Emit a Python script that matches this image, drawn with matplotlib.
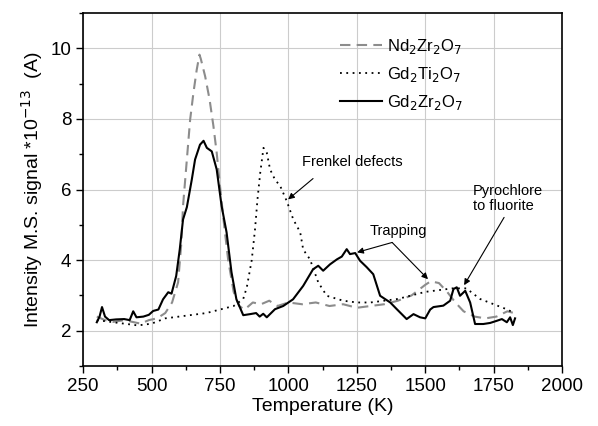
import numpy as np
import matplotlib
matplotlib.use("Agg")
import matplotlib.pyplot as plt

plt.rcParams['font.family'] = ['Liberation Sans', 'DejaVu Sans']

# Gd2Zr2O7 (linea continua)
t_gdzr = [300, 310, 319, 330, 345, 370, 400, 420, 433, 445, 470, 490, 506, 525, 542, 561, 573, 590, 603, 615,
          629, 647, 659, 677, 690, 702, 720, 738, 756, 774, 792, 810, 835, 860, 882, 895, 908, 921, 951, 981,
          1017, 1054, 1090, 1109, 1127, 1152, 1177, 1195, 1213, 1225, 1244, 1262, 1286, 1310, 1335, 1372, 1396, 1432, 1457, 1481,
          1500, 1518, 1530, 1566, 1591, 1603, 1615, 1627, 1646, 1664, 1682, 1712, 1737, 1761, 1780, 1798, 1810, 1820, 1828]
i_gdzr = [2.24, 2.4, 2.67, 2.4, 2.3, 2.32, 2.33, 2.3, 2.55, 2.38, 2.4, 2.45, 2.56, 2.6, 2.89, 3.09, 3.05, 3.55, 4.3, 5.15,
          5.5, 6.28, 6.85, 7.27, 7.38, 7.18, 7.08, 6.57, 5.53, 4.79, 3.66, 2.89, 2.44, 2.47, 2.5, 2.4, 2.48, 2.38, 2.61, 2.7,
          2.89, 3.27, 3.74, 3.84, 3.7, 3.88, 4.02, 4.1, 4.31, 4.17, 4.2, 3.98, 3.8, 3.6, 2.99, 2.8, 2.61, 2.33, 2.47, 2.38,
          2.35, 2.6, 2.67, 2.71, 2.85, 3.18, 3.23, 2.99, 3.13, 2.8, 2.19, 2.19, 2.22, 2.28, 2.33, 2.24, 2.38, 2.16, 2.35]

# Nd2Zr2O7 (discontinua gris)
t_ndzr = [300, 330, 360, 400, 430, 460, 490, 520, 550, 575, 597, 609, 615, 629, 641, 653, 665, 675, 680, 696,
          712, 726, 738, 750, 765, 780, 800, 820, 840, 870, 900, 930, 960, 1000, 1050, 1100, 1150, 1200, 1250, 1300,
          1350, 1400, 1450, 1500, 1520, 1550, 1580, 1610, 1640, 1680, 1720, 1760, 1800, 1825]
i_ndzr = [2.4, 2.3, 2.25, 2.3, 2.25, 2.2, 2.3, 2.35, 2.5, 2.8, 3.37, 4.5, 5.53, 6.85, 7.98, 8.74, 9.39, 9.82, 9.7, 9.2,
          8.55, 7.8, 7.04, 6.1, 5.0, 4.0, 3.1, 2.7, 2.6, 2.8, 2.75, 2.85, 2.7, 2.8, 2.75, 2.8, 2.7, 2.75, 2.65, 2.7,
          2.75, 2.85, 3.0, 3.3, 3.4, 3.35, 3.1, 2.8, 2.55, 2.4, 2.35, 2.4, 2.55, 2.5]

# Gd2Ti2O7 (punteada)
t_gdti = [300, 350, 400, 450, 500, 550, 600, 650, 700, 750, 800, 835, 848, 866, 878, 887, 897, 909, 921, 933,
          951, 970, 994, 1018, 1043, 1054, 1079, 1109, 1140, 1200, 1250, 1300, 1350, 1400, 1450, 1500, 1550, 1600, 1650, 1700,
          1750, 1800, 1825]
i_gdti = [2.3, 2.25, 2.2, 2.15, 2.2, 2.35, 2.4, 2.45, 2.5, 2.6, 2.7, 2.9, 3.23, 4.0, 4.87, 5.72, 6.47, 7.18, 7.04, 6.57,
          6.28, 6.1, 5.67, 5.15, 4.79, 4.3, 4.02, 3.37, 2.99, 2.85, 2.8, 2.8, 2.85, 2.9, 3.0, 3.1, 3.15, 3.2, 3.2, 2.9,
          2.75, 2.6, 2.5]

fig, ax = plt.subplots(figsize=(5.98, 4.26), dpi=100)
fig.subplots_adjust(left=0.139, right=0.94, top=0.9695, bottom=0.1408)

ax.plot(t_ndzr, i_ndzr, color='#8c8c8c', lw=1.5, dashes=(5, 3), label=r'Nd$_2$Zr$_2$O$_7$')
ax.plot(t_gdti, i_gdti, color='black', lw=1.3, dashes=(1, 2.5), label=r'Gd$_2$Ti$_2$O$_7$')
ax.plot(t_gdzr, i_gdzr, color='black', lw=1.5, label=r'Gd$_2$Zr$_2$O$_7$')

ax.set_xlim(250, 2000)
ax.set_ylim(1, 11)
ax.set_xticks(np.arange(250, 2001, 250))
ax.set_xticks(np.arange(375, 2000, 250), minor=True)
ax.set_yticks([2, 4, 6, 8, 10])
ax.set_yticks([1, 3, 5, 7, 9, 11], minor=True)
ax.tick_params(labelsize=13.5, direction='out', length=5, width=1)
ax.tick_params(which='minor', direction='out', length=3, width=1)
ax.grid(True, which='major', color='#cccccc', lw=0.8)
for s in ax.spines.values():
    s.set_linewidth(1.2)

ax.set_xlabel('Temperature (K)', fontsize=14, labelpad=2)
ax.set_ylabel(r'Intensity M.S. signal *10$^{-13}$  (A)', fontsize=14, labelpad=4)

ax.legend(loc='upper left', bbox_to_anchor=(0.505, 0.975), frameon=False, fontsize=12,
          handlelength=2.5, labelspacing=0.55, handletextpad=0.3)

arrow = dict(arrowstyle='-|>', color='black', lw=0.8, mutation_scale=9, shrinkA=0, shrinkB=0)
ax.text(1050, 6.77, 'Frenkel defects', fontsize=10.5, va='center', ha='left')
ax.annotate('', xy=(999, 5.72), xytext=(1090, 6.31), arrowprops=arrow)

ax.text(1401, 4.82, 'Trapping', fontsize=10.5, va='center', ha='center')
ax.annotate('', xy=(1251, 4.22), xytext=(1379, 4.5), arrowprops=arrow)
ax.annotate('', xy=(1510, 3.46), xytext=(1379, 4.5), arrowprops=arrow)

ax.text(1675, 5.75, 'Pyrochlore\nto fluorite', fontsize=10.5, va='center', ha='left', linespacing=1.1)
ax.annotate('', xy=(1642, 3.29), xytext=(1788, 5.21), arrowprops=arrow)

fig.savefig('out.png', dpi=100)
